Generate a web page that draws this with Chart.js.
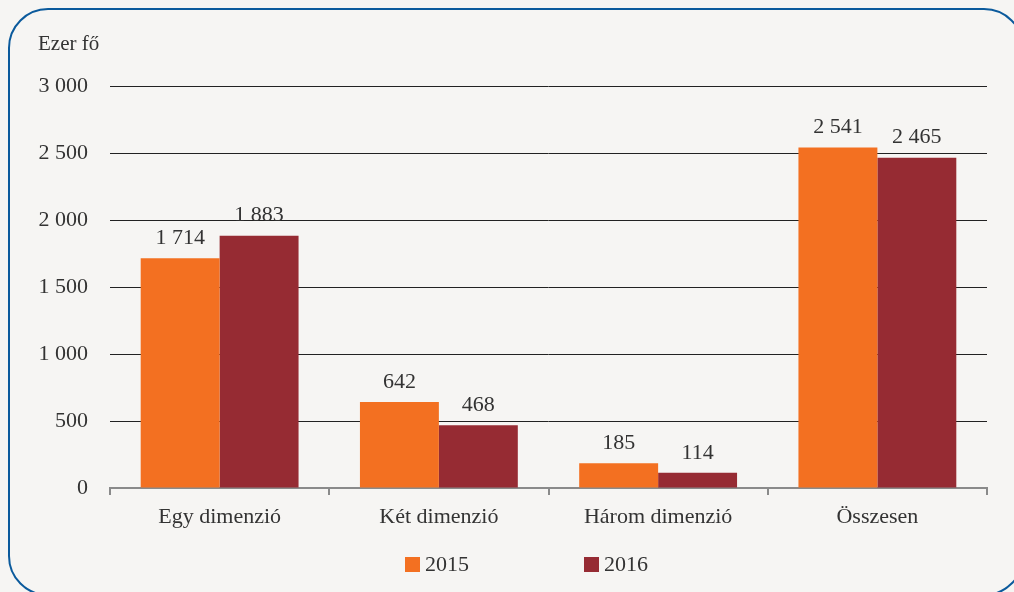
<!DOCTYPE html>
<html>
<head>
<meta charset="utf-8">
<script src="https://cdn.jsdelivr.net/npm/chart.js@4.4.0/dist/chart.umd.min.js"></script>
<style>
  html, body { margin: 0; padding: 0; background: #f6f5f3; }
  body { width: 1014px; height: 592px; position: relative; overflow: hidden; font-family: "Liberation Serif", serif; color: #333; }
  #frame { position: absolute; left: 8px; top: 8px; width: 1016px; height: 588px; box-sizing: border-box; border: 2.5px solid #0b5a9c; border-radius: 40px; }
  #wrap { position: absolute; left: 0; top: 0; width: 1014px; height: 592px; }
  #unit { position: absolute; left: 38px; top: 31px; font-size: 21px; }
  #legend { position: absolute; top: 551px; left: 0; width: 1014px; font-size: 22px; }
  .item { position: absolute; top: 0; display: flex; align-items: center; }
  .box { width: 15px; height: 15px; margin-right: 5px; }
</style>
</head>
<body>
<div id="frame"></div>
<div id="wrap"><canvas id="chart" width="1014" height="592"></canvas></div>
<div id="unit">Ezer fő</div>
<div id="legend"></div>
<script>
  const categories = ['Egy dimenzió', 'Két dimenzió', 'Három dimenzió', 'Összesen'];
  const values2015 = [1714, 642, 185, 2541];
  const values2016 = [1883, 468, 114, 2465];
  const seriesNames = ['2015', '2016'];
  const seriesColors = ['#f37021', '#962b33'];

  const fmt = (v) => String(v).replace(/\B(?=(\d{3})+(?!\d))/g, ' ');
  const font = { family: '"Liberation Serif", serif', size: 22 };

  // value labels above each bar
  const barLabels = {
    id: 'barLabels',
    afterDatasetsDraw(chart) {
      const ctx = chart.ctx;
      ctx.save();
      ctx.font = '22px "Liberation Serif", serif';
      ctx.fillStyle = '#333';
      ctx.textAlign = 'center';
      ctx.textBaseline = 'bottom';
      chart.data.datasets.forEach((ds, i) => {
        chart.getDatasetMeta(i).data.forEach((bar, j) => {
          ctx.fillText(fmt(ds.data[j]), bar.x, bar.y - 9);
        });
      });
      ctx.restore();
    }
  };

  new Chart(document.getElementById('chart'), {
    type: 'bar',
    data: {
      labels: categories,
      datasets: [
        { label: seriesNames[0], data: values2015, backgroundColor: seriesColors[0] },
        { label: seriesNames[1], data: values2016, backgroundColor: seriesColors[1] }
      ]
    },
    options: {
      responsive: false,
      animation: false,
      categoryPercentage: 0.72,
      barPercentage: 1,
      layout: { padding: { left: 0, right: 27, top: 86, bottom: 0 } },
      plugins: { legend: { display: false }, tooltip: { enabled: false } },
      scales: {
        x: {
          afterFit: (s) => { s.height = 104; },
          grid: { offset: true, drawOnChartArea: false, drawTicks: true, tickLength: 7, color: '#8a8a8a', lineWidth: 2 },
          border: { color: '#8a8a8a', width: 2 },
          ticks: { color: '#333', font: font, padding: 9 }
        },
        y: {
          min: 0, max: 3000,
          afterFit: (s) => { s.width = 110; },
          grid: { drawTicks: false, color: (c) => c.tick.value === 0 ? 'rgba(0,0,0,0)' : '#222', lineWidth: 1 },
          border: { display: false },
          ticks: { stepSize: 500, color: '#333', font: font, padding: 22, callback: (v) => fmt(v) }
        }
      }
    },
    plugins: [barLabels]
  });

  const legendPos = [405, 584];
  const legend = document.getElementById('legend');
  seriesNames.forEach((name, i) => {
    const el = document.createElement('div');
    el.className = 'item';
    el.style.left = legendPos[i] + 'px';
    el.innerHTML = '<span class="box" style="background:' + seriesColors[i] + '"></span><span>' + name + '</span>';
    legend.appendChild(el);
  });
</script>
</body>
</html>
